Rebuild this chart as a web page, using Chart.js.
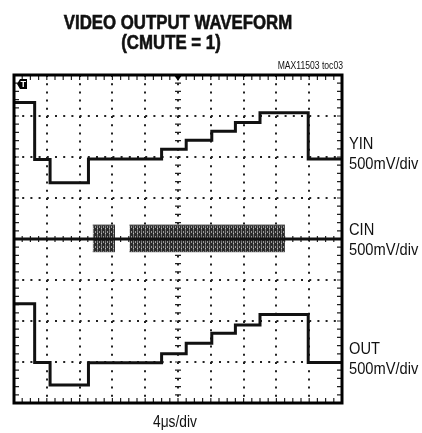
<!DOCTYPE html>
<html>
<head>
<meta charset="utf-8">
<script src="https://cdn.jsdelivr.net/npm/chart.js@4.4.0/dist/chart.umd.min.js"></script>
<style>
  html, body { margin: 0; padding: 0; background: #fff; }
  #wrap { position: relative; width: 422px; height: 433px; overflow: hidden; }
  #scope { position: absolute; left: 0; top: 0; }
  .txt { position: absolute; font-family: 'Liberation Sans', Arial, sans-serif; color: #111; white-space: nowrap; }
  .title { font-weight: bold; font-size: 20.5px; line-height: 20px; text-align: center; width: 300px; transform: scaleX(0.82); transform-origin: 50% 0; -webkit-text-stroke: 0.6px #111; }
  .side { left: 349px; font-size: 16.5px; line-height: 20px; transform: scaleX(0.89); transform-origin: 0 0; }
</style>
</head>
<body>
<div id="wrap">
  <canvas id="scope" width="422" height="433"></canvas>
  <div class="txt title" style="left:28px; top:12px;">VIDEO OUTPUT WAVEFORM</div>
  <div class="txt title" style="left:21px; top:32px;">(CMUTE = 1)</div>
  <div class="txt" style="right:79px; top:60px; font-size:10px; line-height:12px; transform: scaleX(0.86); transform-origin: 100% 0;">MAX11503 toc03</div>
  <div class="txt side" style="top:133px;">YIN<br>500mV/div</div>
  <div class="txt side" style="top:219px;">CIN<br>500mV/div</div>
  <div class="txt side" style="top:338px;">OUT<br>500mV/div</div>
  <div class="txt" style="left:153px; top:413px; font-size:16px; line-height:18px; transform: scaleX(0.86); transform-origin: 0 0;">4μs/div</div>
</div>
<script>
// time axis in divisions (4us/div), voltage in divisions (500mV/div)
const edgeTimes = [0, 0.63, 1.1, 2.27, 4.5, 5.25, 6.03, 6.75, 7.5, 8.97, 10];
const yinLevels = [3.33, 1.94, 1.37, 1.95, 2.19, 2.41, 2.63, 2.84, 3.08, 1.95, 1.95];
const outLevels = [-1.58, -3.01, -3.56, -3.02, -2.80, -2.54, -2.30, -2.10, -1.84, -3.01, -3.01];

const cinTimes = [0, 10];
const cinLevels = [0, 0];
const cinBurstStart = [2.40, 3.52];
const cinBurstEnd = [3.08, 8.26];
const cinBurstHigh = [0.34, 0.34];
const cinBurstLow = [-0.31, -0.31];

function toPoints(xs, ys) {
    return xs.map((x, i) => ({ x: x, y: ys[i] }));
}

// speckled stripes for the colour burst
function burstPattern() {
    const c = document.createElement('canvas');
    c.width = 4; c.height = 5;
    const g = c.getContext('2d');
    g.fillStyle = '#2a2a2a'; g.fillRect(0, 0, 4, 5);
    g.fillStyle = '#777'; g.fillRect(1, 0, 1, 5);
    g.fillStyle = '#999'; g.fillRect(3, 1, 1, 2);
    g.fillStyle = '#bbb'; g.fillRect(1, 3, 1, 1);
    return g.createPattern(c, 'repeat');
}

const trace = { borderColor: '#111', borderWidth: 3, pointRadius: 0, fill: false };

const datasets = [
    Object.assign({ label: 'YIN', data: toPoints(edgeTimes, yinLevels), stepped: true }, trace),
    Object.assign({ label: 'OUT', data: toPoints(edgeTimes, outLevels), stepped: true }, trace),
    Object.assign({ label: 'CIN', data: toPoints(cinTimes, cinLevels) }, trace)
];
const pat = burstPattern();
cinBurstStart.forEach((s, i) => {
    datasets.push({
        label: 'burst hi ' + i,
        data: toPoints([s, cinBurstEnd[i]], [cinBurstHigh[i], cinBurstHigh[i]]),
        borderWidth: 1, borderColor: '#555', pointRadius: 0, fill: '+1', backgroundColor: pat
    });
    datasets.push({
        label: 'burst lo ' + i,
        data: toPoints([s, cinBurstEnd[i]], [cinBurstLow[i], cinBurstLow[i]]),
        borderWidth: 1, borderColor: '#555', pointRadius: 0, fill: false
    });
});

// graticule extras: centre cross ticks, edge ticks, frame, trigger markers
const graticule = {
    id: 'graticule',
    beforeDatasetsDraw(chart) {
        const { ctx, chartArea: a, scales: { x, y } } = chart;
        const cx = x.getPixelForValue(5), cy = y.getPixelForValue(0);
        ctx.save();
        ctx.strokeStyle = '#222';
        ctx.lineWidth = 1.2;
        ctx.beginPath();
        for (let v = 0; v <= 10.001; v += 0.25) {
            const px = x.getPixelForValue(v);
            ctx.moveTo(px, cy - 3); ctx.lineTo(px, cy + 3);
            ctx.moveTo(px, a.top); ctx.lineTo(px, a.top + 5);
            ctx.moveTo(px, a.bottom); ctx.lineTo(px, a.bottom - 5);
        }
        for (let v = -4; v <= 4.001; v += 0.2) {
            const py = y.getPixelForValue(v);
            ctx.moveTo(cx - 3, py); ctx.lineTo(cx + 3, py);
            ctx.moveTo(a.left, py); ctx.lineTo(a.left + 5, py);
            ctx.moveTo(a.right, py); ctx.lineTo(a.right - 5, py);
        }
        ctx.stroke();
        ctx.restore();
    },
    afterDatasetsDraw(chart) {
        const { ctx, chartArea: a, scales: { x } } = chart;
        const cx = x.getPixelForValue(5);
        ctx.save();
        ctx.strokeStyle = '#000';
        ctx.lineWidth = 3;
        ctx.strokeRect(a.left, a.top, a.right - a.left, a.bottom - a.top);
        // trigger position
        ctx.fillStyle = '#000';
        ctx.beginPath();
        ctx.moveTo(cx - 4, a.top); ctx.lineTo(cx + 4, a.top); ctx.lineTo(cx, a.top + 6);
        ctx.closePath(); ctx.fill();
        // trigger level marker
        const tx = a.left + 3, ty = a.top + 4;
        ctx.beginPath();
        ctx.moveTo(tx, ty + 5);
        ctx.lineTo(tx + 3, ty);
        ctx.lineTo(tx + 10, ty);
        ctx.lineTo(tx + 10, ty + 10);
        ctx.lineTo(tx + 3, ty + 10);
        ctx.closePath(); ctx.fill();
        ctx.fillStyle = '#fff';
        ctx.font = 'bold 9px "Liberation Sans"';
        ctx.textAlign = 'center'; ctx.textBaseline = 'middle';
        ctx.fillText('T', tx + 6.2, ty + 5.5);
        ctx.restore();
    }
};

new Chart(document.getElementById('scope'), {
    type: 'line',
    data: { datasets },
    options: {
        responsive: false,
        animation: false,
        layout: { padding: { left: 14, right: 80, top: 75, bottom: 30 } },
        plugins: { legend: { display: false }, tooltip: { enabled: false } },
        scales: {
            x: {
                type: 'linear', min: 0, max: 10,
                ticks: { display: false, stepSize: 1 },
                grid: { color: '#222', lineWidth: 2, drawTicks: false },
                border: { display: false, dash: [2, 6.2] }
            },
            y: {
                type: 'linear', min: -4, max: 4,
                ticks: { display: false, stepSize: 1 },
                grid: { color: '#222', lineWidth: 2, drawTicks: false },
                border: { display: false, dash: [2, 6.2] }
            }
        }
    },
    plugins: [graticule]
});
</script>
</body>
</html>
